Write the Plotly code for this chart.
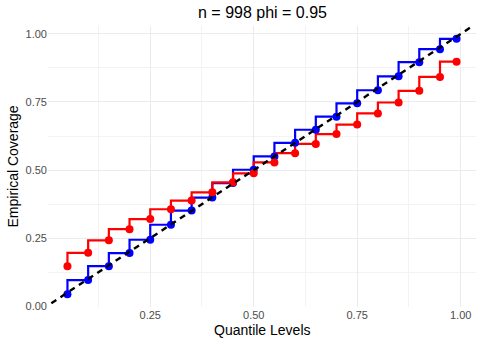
import plotly.graph_objects as go

# quantile levels and empirical coverage
levels = [0.05, 0.10, 0.15, 0.20, 0.25, 0.30, 0.35, 0.40, 0.45, 0.50,
          0.55, 0.60, 0.65, 0.70, 0.75, 0.80, 0.85, 0.90, 0.95, 0.99]
cov_blue = [0.044, 0.096, 0.147, 0.195, 0.244, 0.299, 0.351, 0.399, 0.452, 0.501,
            0.550, 0.600, 0.648, 0.696, 0.745, 0.793, 0.844, 0.896, 0.944, 0.982]
cov_red = [0.147, 0.196, 0.242, 0.283, 0.320, 0.356, 0.388, 0.418, 0.455, 0.488,
           0.528, 0.562, 0.596, 0.632, 0.667, 0.708, 0.748, 0.791, 0.842, 0.898]
diag = [-0.1, 1.1]  # y = x reference line
xticks = [0.25, 0.50, 0.75, 1.00]
yticks = [0.00, 0.25, 0.50, 0.75, 1.00]

BLUE = "#0000FF"
RED = "#FF0000"

fig = go.Figure()

# step lines first, then points, then the dashed reference
for cov, col in [(cov_blue, BLUE), (cov_red, RED)]:
    fig.add_trace(go.Scatter(x=levels, y=cov, mode="lines",
                             line=dict(color=col, width=2.2, shape="vh"),
                             hoverinfo="skip"))
for cov, col in [(cov_blue, BLUE), (cov_red, RED)]:
    fig.add_trace(go.Scatter(x=levels, y=cov, mode="markers",
                             marker=dict(color=col, size=8)))

fig.add_trace(go.Scatter(x=diag, y=diag, mode="lines",
                         line=dict(color="black", width=2.4, dash="6px,5px")))

font = "Liberation Sans, Arial, sans-serif"

# panel in px: left 48, right 476, top 26, bottom 307
fig.update_layout(
    width=482, height=344,
    margin=dict(l=48, r=6, t=26, b=37, autoexpand=False),
    paper_bgcolor="white", plot_bgcolor="white",
    showlegend=False,
    font=dict(family=font, color="black"),
    annotations=[
        dict(text="n = 998 phi = 0.95", x=0.5, y=1.0498, xref="paper", yref="paper",
             xanchor="center", yanchor="middle", showarrow=False,
             font=dict(size=16, color="black")),
        dict(text="Quantile Levels", x=0.5, y=-0.0819, xref="paper", yref="paper",
             xanchor="center", yanchor="middle", showarrow=False,
             font=dict(size=14, color="black")),
        dict(text="Empirical Coverage", x=-0.0841, y=0.5, xref="paper", yref="paper",
             xanchor="center", yanchor="middle", showarrow=False, textangle=-90,
             font=dict(size=14, color="black")),
    ],
)

fig.update_xaxes(
    range=[0.003, 1.037], tickvals=xticks, ticktext=["0.25", "0.50", "0.75", "1.00"],
    showgrid=True, gridcolor="#EBEBEB", gridwidth=1,
    minor=dict(showgrid=True, gridcolor="#F3F3F3", gridwidth=0.6, dtick=0.25, tick0=0.125),
    zeroline=False, showline=False, ticks="", automargin=False,
    tickfont=dict(size=11, color="#4D4D4D"),
)
fig.update_yaxes(
    range=[-0.003, 1.029], tickvals=yticks, ticktext=["0.00", "0.25", "0.50", "0.75", "1.00"],
    showgrid=True, gridcolor="#EBEBEB", gridwidth=1,
    minor=dict(showgrid=True, gridcolor="#F3F3F3", gridwidth=0.6, dtick=0.25, tick0=0.125),
    zeroline=False, showline=False, ticks="", automargin=False,
    tickfont=dict(size=11, color="#4D4D4D"),
)

# drop the default 8px body margin so the figure sits at the window origin
fig.write_html("out.html", config={"displayModeBar": False},
               post_script="document.body.style.margin = '0px';")
